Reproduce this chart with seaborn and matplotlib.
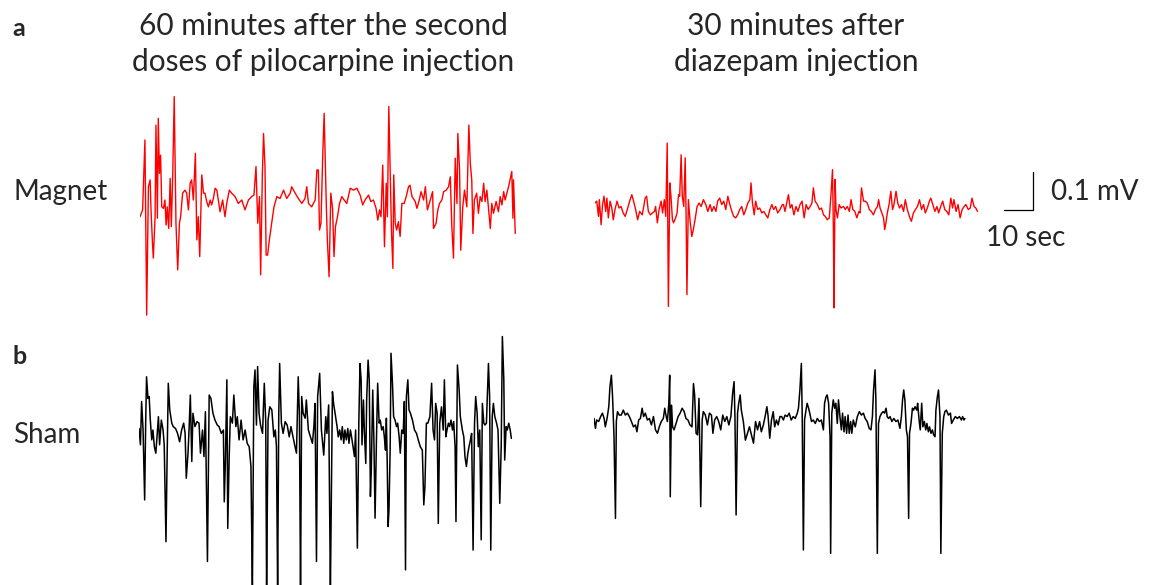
"""
EEG traces: magnet vs sham, after pilocarpine and after diazepam.
"""
import numpy as np
import matplotlib
matplotlib.use("Agg")
import matplotlib.pyplot as plt
import seaborn as sns

# (time in s, amplitude in uV)
magnet_pilo = [
    (0.0, -44), (0.9, -26), (1.7, 158), (2.3, -303), (2.9, 35), (3.5, 53), (3.8, -26), (4.3, -114), (4.6, -153), (5.2, -44),
    (5.5, 197), (6.0, -48), (6.3, 215), (6.7, 70), (7.1, 118), (7.5, -18), (8.1, -22), (8.6, 0), (9.0, -66), (9.4, -18),
    (9.9, -75), (10.4, 57), (10.8, -70), (11.3, 70), (11.8, 272), (12.4, -61), (13.0, -184), (13.6, -61), (14.0, -44), (14.7, 18),
    (15.5, 26), (16.1, 18), (16.7, -26), (17.3, 44), (17.8, 53), (18.4, 0), (19.1, 123), (19.6, -105), (20.1, -44), (20.6, -149),
    (21.3, 66), (21.9, 18), (22.4, 18), (23.0, -4), (23.6, -18), (24.2, 0), (24.7, -13), (25.3, 4), (25.9, 31), (26.5, 26),
    (27.0, 0), (27.6, -31), (28.5, 0), (29.3, -44), (29.9, -9), (30.8, 26), (31.6, 18), (32.8, 9), (33.9, -9), (35.1, 0),
    (36.2, -26), (37.4, 0), (38.5, 9), (39.3, 13), (40.0, 88), (40.6, -61), (41.2, 9), (41.6, -197), (42.2, 70), (42.6, 175),
    (43.1, 88), (43.5, -145), (44.0, -145), (44.6, -105), (45.4, -61), (46.2, -18), (47.2, 9), (48.3, 4), (49.5, 26), (50.6, 4),
    (51.8, 18), (52.3, 35), (53.5, 18), (54.6, 4), (55.8, -9), (56.9, 4), (57.5, 35), (58.1, -9), (59.2, -18), (60.4, 0),
    (61.0, 79), (61.5, 79), (61.9, -79), (62.4, -61), (63.0, 114), (63.5, 228), (64.2, 0), (64.6, -105), (65.2, -202), (65.8, 18),
    (66.4, -22), (66.9, -149), (67.4, -70), (68.1, -44), (68.8, -9), (69.6, 9), (70.4, 0), (71.3, -9), (72.5, 31), (73.6, 26),
    (74.8, 31), (75.9, 13), (76.8, -13), (77.6, 0), (78.8, 13), (79.6, -4), (80.5, 0), (81.4, -22), (82.0, -53), (82.6, -26),
    (83.1, -44), (83.7, 92), (84.3, -123), (84.9, 44), (85.3, -44), (85.8, 246), (86.3, 61), (86.7, -79), (87.2, -180), (87.5, 66),
    (88.0, -61), (88.5, -79), (89.1, -57), (89.7, -96), (90.3, -9), (91.1, -9), (91.8, 9), (92.6, 35), (93.1, 39), (93.8, 9),
    (94.9, -4), (95.5, -22), (96.3, 0), (96.9, 22), (97.8, 0), (98.4, 35), (99.1, -26), (100.1, 0), (100.9, 22), (101.2, -75),
    (102.1, -61), (102.7, -26), (103.3, -9), (104.1, 0), (104.7, 22), (105.6, 26), (106.4, 35), (107.0, 61), (107.5, -66), (108.1, -153),
    (108.7, 110), (109.3, -9), (109.6, 175), (110.2, 79), (110.6, -132), (111.3, -18), (111.9, 26), (112.7, -18), (113.4, 197), (113.9, 96),
    (114.4, 53), (114.8, -88), (115.3, 0), (116.1, 18), (116.7, -35), (117.3, 9), (117.9, -4), (118.5, 44), (119.0, -4), (119.6, 26),
    (120.2, -26), (120.8, -75), (121.3, -9), (121.9, -35), (122.8, -4), (123.6, -31), (124.2, 9), (124.8, -13), (125.4, 22), (125.9, 0),
    (126.5, 18), (127.1, 35), (127.6, 53), (128.2, 75), (128.6, -48), (128.8, 53), (129.4, -88),
]

magnet_diaz = [
    (0.0, 13), (0.6, 18), (1.2, -22), (1.5, 22), (2.1, -44), (2.6, 9), (3.1, 31), (3.7, -9), (4.1, 26), (4.6, -26),
    (5.2, 18), (5.8, 0), (6.3, -31), (6.9, -4), (7.6, 18), (8.3, 0), (9.0, 4), (9.7, -13), (10.4, -22), (11.3, 0),
    (12.1, 22), (12.7, 35), (13.3, 18), (14.0, -4), (14.7, -31), (15.4, -9), (16.3, -18), (17.3, 26), (17.8, 31), (18.4, -9),
    (19.1, -18), (19.8, -13), (20.5, -9), (20.9, 4), (21.5, -39), (22.1, -4), (22.8, 18), (23.3, -13), (23.9, 22), (24.4, -22),
    (24.9, 171), (25.3, -259), (25.8, 66), (26.2, 31), (26.7, -31), (27.1, -39), (27.8, -26), (28.3, -13), (28.8, 35), (29.2, 31),
    (29.7, 140), (30.1, 31), (30.6, 4), (31.1, 132), (31.4, -13), (31.7, -228), (32.2, 22), (32.8, -35), (33.4, -75), (33.9, -57),
    (34.5, -31), (35.2, 4), (35.9, 13), (36.6, 4), (37.4, 22), (38.2, 9), (38.9, -9), (39.7, 9), (40.3, -9), (41.0, 4),
    (41.7, -9), (42.3, 18), (43.0, 26), (43.7, 9), (44.4, 18), (45.1, -4), (45.8, 31), (46.5, 9), (47.2, -9), (47.8, -22),
    (48.5, -26), (49.2, -18), (49.9, -4), (50.6, 4), (51.3, -18), (52.0, -4), (52.7, 13), (53.4, 22), (53.8, 66), (54.3, 13),
    (54.9, -18), (55.4, 18), (56.1, -4), (56.8, 0), (57.5, -13), (58.2, -9), (58.9, -18), (59.6, -26), (60.3, -4), (61.0, 9),
    (61.6, -4), (62.3, 4), (63.0, -13), (63.8, -4), (64.6, 9), (65.0, 9), (65.5, -9), (66.1, 13), (66.7, 35), (67.3, 0),
    (67.9, 9), (68.6, -18), (69.3, 4), (70.0, -9), (70.7, 9), (71.4, 18), (72.1, -26), (72.8, 9), (73.5, -4), (74.2, 4),
    (74.8, 13), (75.3, 53), (75.9, 18), (76.7, 9), (77.4, -4), (78.1, 0), (78.8, -18), (79.4, -22), (80.1, -31), (80.8, -26),
    (81.4, 39), (81.9, 101), (82.2, -57), (82.4, -263), (82.8, 75), (83.1, -4), (83.6, -26), (84.2, 9), (84.8, 0), (85.7, 4),
    (86.3, -4), (87.0, 4), (87.7, -9), (88.3, 22), (88.9, -4), (89.6, -9), (90.3, -26), (91.0, -9), (91.4, -13), (91.9, 53),
    (92.6, 18), (93.2, 18), (93.9, 13), (94.6, -4), (95.3, -9), (96.0, -18), (96.7, -4), (97.4, 4), (97.8, 22), (98.3, 0),
    (98.9, -13), (99.5, -26), (99.9, -57), (100.4, -35), (100.8, -13), (101.4, 9), (102.0, 44), (102.6, -4), (103.1, 9), (103.8, 44),
    (104.4, 13), (105.0, 0), (105.7, 9), (106.4, -9), (107.0, 22), (107.7, -4), (108.4, -22), (109.1, -35), (109.8, -13), (110.5, -4),
    (111.2, 4), (111.9, 22), (112.6, -4), (113.3, 9), (113.9, -13), (114.6, 0), (115.3, 18), (115.8, 26), (116.5, 9), (117.2, -9),
    (117.9, 4), (118.5, -13), (119.2, 4), (119.9, 18), (120.6, -4), (121.3, -9), (122.0, -18), (122.7, 26), (123.3, 0), (123.8, 22),
    (124.5, -9), (125.2, 9), (125.9, -26), (126.6, -4), (127.3, 4), (127.9, 9), (128.7, -4), (129.4, 0), (130.0, 26), (130.7, 4),
    (131.3, 0), (131.9, -9),
]

sham_pilo = [
    (0.0, 4), (0.5, -39), (0.9, 75), (1.4, 0), (1.7, -105), (1.95, -184), (2.3, 18), (2.6, 140), (3.1, 83), (3.5, 88),
    (3.9, 26), (4.4, -26), (4.8, 0), (5.3, -44), (5.8, -61), (6.2, -18), (6.7, 35), (7.1, -39), (7.7, 26), (8.3, 0),
    (8.7, -39), (9.3, -294), (9.7, -70), (10.1, 123), (10.6, 53), (11.3, 18), (11.8, 9), (12.6, 4), (13.3, -9), (14.0, -31),
    (14.7, 0), (15.4, 18), (15.9, -9), (16.3, -127), (16.9, -61), (17.3, 9), (17.7, 92), (18.2, -83), (18.6, 44), (19.3, 9),
    (20.0, 22), (20.7, 18), (21.2, -61), (21.9, 0), (22.4, -70), (22.9, 48), (23.6, -346), (24.2, 92), (24.8, 83), (25.5, 44),
    (26.2, 26), (27.0, 13), (27.6, 9), (28.4, -9), (29.1, 0), (29.4, -189), (29.8, -79), (30.3, 132), (30.6, -259), (31.1, -70),
    (31.5, 35), (32.2, 18), (32.7, 92), (33.4, 9), (33.9, 35), (34.5, -26), (35.2, 26), (35.9, -26), (36.6, 0), (37.3, -35),
    (38.0, -44), (38.6, -96), (39.1, -420), (39.6, 114), (40.0, 158), (40.5, 13), (40.9, 167), (41.4, 44), (41.9, 13), (42.6, -9),
    (43.2, 123), (43.7, 22), (44.0, -420), (44.5, 26), (45.1, 61), (45.8, 53), (46.5, -18), (47.0, 0), (47.4, -44), (47.8, -420),
    (48.2, 44), (48.5, 175), (49.1, 18), (49.7, -9), (50.4, 22), (51.1, 13), (51.8, -18), (52.4, 9), (53.1, -18), (53.8, -44),
    (54.3, -61), (54.9, 140), (55.3, 44), (55.7, -420), (56.1, 88), (56.6, 44), (57.3, 31), (57.7, 79), (58.4, 0), (59.1, -18),
    (59.8, -35), (60.3, 9), (60.7, 70), (61.2, -346), (61.6, 88), (62.3, 149), (62.9, 0), (63.7, -66), (64.4, 35), (64.8, -9),
    (65.4, 66), (66.0, -420), (66.7, 101), (67.1, 70), (67.8, 35), (68.3, 9), (68.7, -18), (69.2, 0), (69.7, -26), (70.1, 9),
    (70.6, -35), (71.0, 0), (71.5, -26), (72.0, 4), (72.4, -35), (72.9, 0), (73.3, -18), (73.8, -44), (74.3, -70), (74.7, 0),
    (75.3, -311), (75.8, 18), (76.2, 175), (76.6, 132), (76.9, -39), (77.4, 79), (77.7, 0), (78.2, -88), (78.5, 79), (79.0, 184),
    (79.4, 132), (79.8, -175), (80.1, -105), (80.6, 105), (81.0, -26), (81.4, -232), (81.9, -18), (82.3, 123), (82.8, 18), (83.2, 26),
    (83.7, 0), (84.2, 9), (84.6, -18), (85.0, -53), (85.3, 31), (85.6, -88), (85.9, -254), (86.2, -210), (86.6, -53), (86.9, 202),
    (87.4, 123), (87.8, 35), (88.3, 26), (88.8, 9), (89.2, 18), (89.7, -18), (90.1, -61), (90.6, 0), (91.1, -9), (91.5, 75),
    (91.9, -368), (92.2, 88), (92.7, 132), (93.1, 53), (93.6, 44), (94.3, 26), (95.0, 0), (95.7, -9), (96.3, -26), (97.0, -44),
    (97.7, -53), (98.2, -197), (98.6, -149), (99.1, 18), (99.6, 18), (100.3, 35), (100.9, 123), (101.4, 0), (101.9, -26), (102.3, 70),
    (102.8, 44), (103.2, -246), (103.7, 18), (104.3, 61), (104.9, 0), (105.3, 132), (105.8, -18), (106.2, 0), (106.7, 18), (107.1, 9),
    (107.6, 26), (108.1, 0), (108.5, 22), (109.0, -44), (109.3, -241), (109.8, 171), (110.4, 105), (110.8, 35), (111.5, 0), (112.0, -18),
    (112.4, -70), (112.9, -96), (113.4, -61), (113.8, -44), (114.3, -26), (114.7, -9), (115.2, -316), (115.7, 18), (116.1, 88), (116.6, 44),
    (117.0, -44), (117.5, 0), (118.0, -289), (118.4, 70), (118.9, 18), (119.3, 13), (119.8, 18), (120.5, 175), (120.9, 88), (121.3, -316),
    (121.8, 35), (122.2, 70), (122.7, 35), (123.3, 18), (123.8, 0), (124.4, -193), (124.9, -44), (125.3, 246), (125.8, 132), (126.1, -79),
    (126.6, 9), (127.0, 0), (127.5, 18), (128.0, 0), (128.4, -22),
]

sham_diaz = [
    (0.0, 4), (0.5, -22), (0.9, 0), (1.6, -4), (2.3, 9), (2.9, 18), (3.5, 4), (3.9, -18), (4.5, 4), (5.1, 35),
    (5.5, 88), (6.0, 118), (6.4, 61), (6.9, -44), (7.4, -259), (7.7, -4), (8.1, 22), (8.7, 13), (9.4, 13), (10.1, 26),
    (10.8, 13), (11.5, 18), (12.2, 9), (12.9, -4), (13.6, -18), (14.3, -13), (14.8, -31), (15.4, 0), (16.0, 4), (16.6, 31),
    (17.1, 9), (17.7, 18), (18.4, 0), (19.1, 4), (19.8, -13), (20.5, 9), (21.2, -26), (21.9, -35), (22.5, -18), (23.2, -4),
    (23.9, 4), (24.4, 31), (24.8, 13), (25.3, -4), (25.8, 44), (26.1, 118), (26.3, -202), (26.7, 39), (27.1, -18), (27.6, -26),
    (28.3, -9), (29.0, 9), (29.7, 18), (30.4, 31), (31.1, 22), (31.7, 4), (32.4, 0), (33.1, -13), (33.8, -18), (34.3, 96),
    (34.7, 66), (35.2, -35), (35.7, -39), (36.2, 57), (36.8, -228), (37.3, 0), (37.7, 22), (38.4, 13), (39.1, -13), (39.8, 18),
    (40.5, 13), (41.0, -35), (41.6, 0), (42.3, 9), (43.0, -4), (43.7, -26), (44.4, 13), (45.1, -4), (45.8, 9), (46.5, -13),
    (47.2, 9), (47.8, 70), (48.3, 101), (48.6, 9), (49.0, -250), (49.5, 18), (49.9, 44), (50.4, 66), (50.8, 26), (51.5, -4),
    (52.2, -53), (52.9, -35), (53.6, -18), (54.3, -39), (55.0, -61), (55.7, -4), (56.4, -26), (57.1, -4), (57.7, -31), (58.4, -13),
    (59.1, 13), (59.6, 35), (60.0, 13), (60.6, -48), (61.2, 0), (61.8, 22), (62.3, -18), (62.9, 0), (63.5, -13), (64.1, 9),
    (64.7, 9), (65.3, 0), (65.9, 13), (66.6, 9), (67.3, 18), (68.0, 0), (68.7, 9), (69.4, 4), (70.1, 18), (70.5, 31),
    (71.0, 79), (71.5, 149), (71.8, 9), (72.2, -342), (72.6, 0), (73.1, 26), (73.5, 44), (74.0, 31), (74.4, 18), (75.0, -4),
    (75.6, 0), (76.3, -9), (77.0, 4), (77.7, -4), (78.4, 0), (79.1, -26), (79.5, 44), (80.0, 61), (80.4, 66), (80.9, 44),
    (81.4, -44), (81.6, -351), (82.0, 18), (82.5, 53), (83.0, 31), (83.4, 44), (83.9, -9), (84.3, 53), (84.8, 9), (85.3, -26),
    (85.7, 18), (86.2, -31), (86.6, 9), (87.1, -35), (87.6, 13), (88.0, -35), (88.5, -4), (88.9, -35), (89.4, 0), (90.1, -18),
    (90.8, 9), (91.5, 22), (92.2, 13), (92.9, 18), (93.5, 4), (94.2, -4), (94.9, -22), (95.5, -26), (96.0, 9), (96.4, 79),
    (96.9, 132), (97.2, 53), (97.7, -351), (98.1, -9), (98.6, 9), (99.2, 18), (99.7, 22), (100.2, 18), (100.7, 31), (101.1, 9),
    (101.6, 4), (102.1, 9), (102.7, -4), (103.4, 4), (104.1, -4), (104.8, 0), (105.5, -22), (106.0, 9), (106.4, 53), (106.8, 79),
    (107.2, 53), (107.7, -26), (108.1, -44), (108.5, -259), (108.8, -35), (109.3, -9), (109.8, 31), (110.2, 26), (110.7, 35), (111.3, 26),
    (111.6, 44), (112.1, 0), (112.5, -26), (113.0, 44), (113.4, -18), (113.9, -4), (114.4, -26), (114.8, -9), (115.3, -31), (115.7, -18),
    (116.2, -35), (116.7, -26), (117.1, -39), (117.6, -44), (117.9, 26), (118.4, 61), (118.8, 79), (119.3, 9), (119.6, -351), (120.1, -35),
    (120.6, 9), (121.0, 22), (121.5, 26), (122.2, 13), (122.9, 18), (123.3, -9), (123.9, 0), (124.6, 9), (125.3, 4), (126.0, 9),
    (126.7, 0), (127.1, 9), (127.6, 0), (127.9, 4),
]

row_labels = ["Magnet", "Sham"]
panel_letters = ["a", "b"]
column_titles = ["60 minutes after the second\ndoses of pilocarpine injection",
                 "30 minutes after\ndiazepam injection"]
scale_time_s = 10
scale_amp_uv = 100

sns.set_theme(style="white")
plt.rcParams["font.family"] = ["Lato", "DejaVu Sans"]

W, H = 1157, 585
SEC_PER_PX = 10 / 29
UV_PER_PX = 100 / 38

fig = plt.figure(figsize=(W / 100, H / 100), dpi=100)


def trace_axes(left_px, base_px, width_px=470, half_px=230):
    ax = fig.add_axes([left_px / W, (H - base_px - half_px) / H, width_px / W, 2 * half_px / H])
    ax.set_xlim(0, width_px * SEC_PER_PX)
    ax.set_ylim(-half_px * UV_PER_PX, half_px * UV_PER_PX)
    ax.axis("off")
    return ax


def draw(ax, pairs, color, lw):
    t, v = np.array(pairs, dtype=float).T
    sns.lineplot(x=t, y=v, ax=ax, color=color, linewidth=lw, sort=False,
                 estimator=None, legend=False)


def ftext(x, y, s, **kw):
    fig.text(x / W, 1 - y / H, s, **kw)


ax1 = trace_axes(140, 200)
draw(ax1, magnet_pilo, "#ff0000", 1.0)
ax2 = trace_axes(595, 208)
draw(ax2, magnet_diaz, "#ff0000", 1.0)
ax3 = trace_axes(139, 430)
draw(ax3, sham_pilo, "black", 1.1)
ax4 = trace_axes(594, 420)
draw(ax4, sham_diaz, "black", 1.1)

# scale bar, drawn in the data units of the diazepam magnet trace
sb_t = (1033 - 595) * SEC_PER_PX
sb_v = (208 - 210) * UV_PER_PX
ax2.plot([sb_t - scale_time_s, sb_t, sb_t], [sb_v, sb_v, sb_v + scale_amp_uv],
         color="black", linewidth=0.9, solid_joinstyle="miter")

fs = 20
ftext(12, 28, panel_letters[0], fontsize=fs - 2, fontweight="bold", va="center")
ftext(12, 356, panel_letters[1], fontsize=fs - 2, fontweight="bold", va="center")
ftext(13, 192, row_labels[0], fontsize=fs, va="center")
ftext(13, 435, row_labels[1], fontsize=fs, va="center")
ftext(323, 44, column_titles[0], fontsize=21.5, ha="center", va="center", linespacing=1.33)
ftext(796, 44, column_titles[1], fontsize=21.5, ha="center", va="center", linespacing=1.33)
ftext(1051, 192, "0.1 mV", fontsize=fs, va="center")
ftext(1026, 238, "10 sec", fontsize=fs, ha="center", va="center")

fig.savefig("out.png", dpi=100, facecolor="white")
